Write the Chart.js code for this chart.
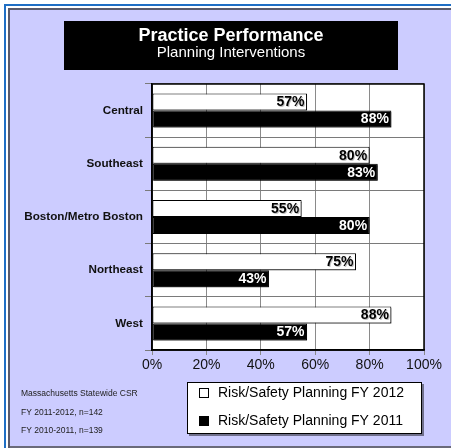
<!DOCTYPE html>
<html>
<head>
<meta charset="utf-8">
<script src="https://cdn.jsdelivr.net/npm/chart.js@4/dist/chart.umd.min.js"></script>
<style>
html,body{margin:0;padding:0;background:#fff;}
#wrap{width:451px;height:448px;position:relative;}
</style>
</head>
<body>
<div id="wrap"><canvas id="c" width="451" height="448"></canvas></div>
<script>
const categories = ["Central", "Southeast", "Boston/Metro Boston", "Northeast", "West"];
const fy2012 = [57, 80, 55, 75, 88];
const fy2011 = [88, 83, 80, 43, 57];
const seriesNames = ["Risk/Safety Planning FY 2012", "Risk/Safety Planning FY 2011"];
const xTicks = [0, 20, 40, 60, 80, 100];
const titleText = "Practice Performance";
const subtitleText = "Planning Interventions";
const notes = ["Massachusetts Statewide CSR", "FY 2011-2012, n=142", "FY 2010-2011, n=139"];

const FONT = "'Liberation Sans', Arial, Helvetica, sans-serif";

const framePlugin = {
  id: 'frame',
  beforeDraw(chart) {
    const ctx = chart.ctx;
    ctx.save();
    ctx.fillStyle = '#ffffff';
    ctx.fillRect(0, 0, 451, 448);
    ctx.fillStyle = '#1f6fc4';
    ctx.fillRect(4, 4, 2, 444);
    ctx.fillRect(4, 4, 447, 2);
    ctx.fillStyle = '#5a5a6a';
    ctx.fillRect(8, 8, 2, 440);
    ctx.fillRect(8, 8, 443, 2);
    ctx.fillStyle = '#ccccff';
    ctx.fillRect(10, 10, 441, 436);
    ctx.fillStyle = '#6a6a7a';
    ctx.fillRect(10, 446, 441, 2);
    const a = chart.chartArea;
    ctx.fillStyle = '#ffffff';
    ctx.fillRect(a.left, a.top, a.right - a.left, a.bottom - a.top);
    ctx.restore();
  },
  beforeDatasetsDraw(chart) {
    const ctx = chart.ctx;
    ctx.save();
    ctx.shadowColor = 'rgba(0,0,0,0.45)';
    ctx.shadowOffsetX = 1.5;
    ctx.shadowOffsetY = 1.5;
    ctx.shadowBlur = 0.5;
  },
  afterDatasetsDraw(chart) {
    const ctx = chart.ctx;
    ctx.restore();
    ctx.save();
    ctx.font = "bold 14px " + FONT;
    ctx.textAlign = 'right';
    ctx.textBaseline = 'middle';
    chart.data.datasets.forEach((ds, di) => {
      const meta = chart.getDatasetMeta(di);
      meta.data.forEach((bar, i) => {
        const txt = ds.data[i] + '%';
        ctx.fillStyle = di === 0 ? 'rgba(0,0,0,0.25)' : 'rgba(0,0,0,0.6)';
        ctx.fillText(txt, bar.x - 1.5, bar.y + 1.5);
        ctx.fillStyle = di === 0 ? '#000' : '#fff';
        ctx.fillText(txt, bar.x - 2.5, bar.y + 0.5);
      });
    });
    ctx.restore();
  },
  afterDraw(chart) {
    const ctx = chart.ctx;
    const a = chart.chartArea;
    ctx.save();
    ctx.strokeStyle = '#000';
    ctx.lineWidth = 1.5;
    ctx.strokeRect(a.left, a.top, a.right - a.left, a.bottom - a.top);
    ctx.fillStyle = '#000';
    ctx.fillRect(64, 21, 334, 49);
    ctx.fillStyle = '#fff';
    ctx.textAlign = 'center';
    ctx.textBaseline = 'alphabetic';
    ctx.font = "bold 18px " + FONT;
    ctx.fillText(titleText, 231, 41);
    ctx.font = "15px " + FONT;
    ctx.fillText(subtitleText, 231, 57);
    ctx.fillStyle = '#222';
    ctx.textAlign = 'left';
    ctx.textBaseline = 'middle';
    ctx.font = "8.5px " + FONT;
    const ny = [393.5, 412.5, 430.5];
    notes.forEach((t, i) => ctx.fillText(t, 21, ny[i]));
    ctx.fillStyle = 'rgba(0,0,0,0.45)';
    ctx.fillRect(189, 384, 235, 52);
    ctx.fillStyle = '#fff';
    ctx.fillRect(187, 382, 235, 52);
    ctx.strokeStyle = '#000';
    ctx.lineWidth = 1;
    ctx.strokeRect(187.5, 382.5, 234, 51);
    ctx.font = "14px " + FONT;
    const ly = [393, 421];
    chart.data.datasets.forEach((ds, i) => {
      ctx.fillStyle = ds.backgroundColor;
      ctx.fillRect(199, ly[i] - 5, 10, 10);
      ctx.strokeStyle = '#000';
      ctx.strokeRect(199.5, ly[i] - 4.5, 9, 9);
      ctx.fillStyle = '#000';
      ctx.fillText(ds.label, 218, ly[i]);
    });
    ctx.restore();
  }
};

new Chart(document.getElementById('c'), {
  type: 'bar',
  data: {
    labels: categories,
    datasets: [
      { label: seriesNames[0], data: fy2012, backgroundColor: '#ffffff', borderColor: '#000000', borderWidth: 1, borderSkipped: false },
      { label: seriesNames[1], data: fy2011, backgroundColor: '#000000', borderColor: '#000000', borderWidth: 1, borderSkipped: false }
    ]
  },
  options: {
    indexAxis: 'y',
    responsive: false,
    animation: false,
    devicePixelRatio: 1,
    layout: { padding: { left: 0, right: 27, top: 84, bottom: 68 } },
    datasets: { bar: { categoryPercentage: 0.64, barPercentage: 1.0 } },
    plugins: { legend: { display: false }, title: { display: false }, tooltip: { enabled: false } },
    scales: {
      x: {
        min: 0, max: 100,
        afterFit: s => { s.height = 30; },
        afterBuildTicks: s => { s.ticks = xTicks.map(v => ({ value: v })); },
        ticks: { callback: v => v + '%', color: '#111', font: { family: FONT, size: 14 }, padding: 2 },
        grid: { color: '#8a8a8a', lineWidth: 1, tickLength: 5, drawOnChartArea: true },
        border: { display: true, color: '#000', width: 1.5 }
      },
      y: {
        afterFit: s => { s.width = 152; },
        ticks: { color: '#111', font: { family: FONT, size: 11.7, weight: 'bold' }, padding: 2 },
        grid: { color: '#7a7a7a', lineWidth: 1, tickLength: 7, offset: true, drawOnChartArea: true },
        border: { display: true, color: '#000', width: 1.5 }
      }
    }
  },
  plugins: [framePlugin]
});
</script>
</body>
</html>
